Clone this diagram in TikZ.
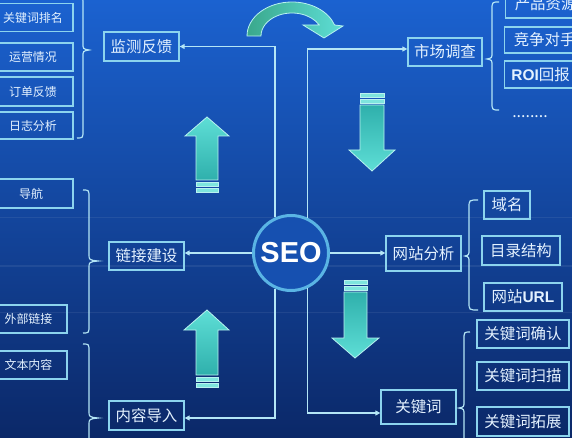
\documentclass[tikz,border=0pt]{standalone}
\usepackage{fontspec}
\setmainfont{Noto Sans CJK SC}
\newfontfamily\latinsans{Liberation Sans}
\usetikzlibrary{arrows.meta,calc}
\definecolor{bgtop}{HTML}{1B62D0}
\definecolor{bgmid}{HTML}{1450B4}
\definecolor{bgbot}{HTML}{0B2868}
\definecolor{boxc}{HTML}{8CD4EE}
\definecolor{linec}{HTML}{B4E6F6}
\definecolor{txt}{HTML}{E4F2FF}
\definecolor{circ}{HTML}{5AB4E4}
\definecolor{seofill}{HTML}{1650B0}
\definecolor{tealA}{HTML}{2FB0AC}
\definecolor{tealB}{HTML}{5EDED6}
\definecolor{tealEdge}{HTML}{B8F2F0}
\definecolor{greenA}{HTML}{3AA88C}
\tikzset{
  bx/.style={draw=boxc, line width=1.3bp, text=txt, inner sep=0pt,
    font=\fontsize{15.5}{16}\selectfont},
  sbx/.style={bx, font=\fontsize{12}{13}\selectfont},
  conn/.style={draw=linec, line width=1.3bp, -{Triangle[length=5bp,width=5bp]}},
  brc/.style={draw=linec, line width=1.2bp},
  blkup/.style={top color=tealB, bottom color=tealA, draw=tealEdge, line width=0.8bp},
  blkdn/.style={top color=tealA, bottom color=tealB, draw=tealEdge, line width=0.8bp},
  barst/.style={fill=tealB!80!white, draw=tealEdge, line width=0.6bp},
  curvarr/.style={left color=greenA, right color=tealB, draw=tealEdge, line width=0.8bp},
}
% brace: #1 end x, #2 vertical x, #3 tip x, #4 top y, #5 tip y, #6 bottom y
\newcommand\brce[6]{\draw[brc] (#1,#4) .. controls (#2,#4) .. (#2,#4+8) -- (#2,#5-7)
  .. controls (#2,#5-1) .. (#3,#5) .. controls (#2,#5+1) .. (#2,#5+7) -- (#2,#6-8)
  .. controls (#2,#6) .. (#1,#6);}
\begin{document}
\begin{tikzpicture}[x=1bp,y=-1bp]
\useasboundingbox (0,0) rectangle (572,438);
\clip (0,0) rectangle (572,438);
\shade[top color=bgtop, middle color=bgmid, bottom color=bgbot] (0,0) rectangle (572,438);
\foreach \yy in {218,266,312} \draw[white, opacity=0.07, line width=1bp] (0,\yy) -- (572,\yy);

% curved arrow at top
\path[curvarr] (247,36) arc[start angle=180,end angle=341.1,x radius=45,y radius=34]
  -- (343,26) -- (324,38) -- (303,25) -- (319.2,25)
  arc[start angle=331.4,end angle=180,x radius=31,y radius=23] -- cycle;

% block arrows
\path[blkup] (207,117) -- (229,136) -- (218,136) -- (218,180) -- (196,180) -- (196,136) -- (185,136) -- cycle;
\path[barst] (196,182) rectangle (218,186);
\path[barst] (196,188) rectangle (218,192);
\path[blkup] (207,310) -- (229,330) -- (218,330) -- (218,375) -- (196,375) -- (196,330) -- (184,330) -- cycle;
\path[barst] (196,377) rectangle (218,381);
\path[barst] (196,383) rectangle (218,387);
\path[blkdn] (372,171) -- (395,150) -- (384,150) -- (384,105) -- (360,105) -- (360,150) -- (349,150) -- cycle;
\path[barst] (360,93) rectangle (384,97);
\path[barst] (360,99) rectangle (384,103);
\path[blkdn] (355,358) -- (379,338) -- (367,338) -- (367,292) -- (344,292) -- (344,338) -- (332,338) -- cycle;
\path[barst] (344,280) rectangle (367,284);
\path[barst] (344,286) rectangle (367,290);

% centre
\node[circle, draw=circ, line width=3bp, minimum size=75bp, fill=seofill, text=white,
  font=\latinsans\bfseries\fontsize{29}{30}\selectfont] (seo) at (291,253) {SEO};

% main boxes
\node[bx,minimum width=75bp,minimum height=29bp] (jc) at (141.5,46.5) {监测反馈};
\node[bx,minimum width=74bp,minimum height=28bp] (sc) at (445,52) {市场调查};
\node[bx,minimum width=75bp,minimum height=28bp] (lj) at (146.5,256) {链接建设};
\node[bx,minimum width=75bp,minimum height=29bp] (nr) at (146.5,415.5) {内容导入};
\node[bx,minimum width=75bp,minimum height=35bp] (wz) at (423.5,253.5) {网站分析};
\node[bx,minimum width=75bp,minimum height=34bp] (gjc) at (418.5,407) {关键词};

% left column
\node[sbx,minimum width=80bp,minimum height=28.5bp] (l1) at (33,17.5) {关键词排名};
\node[sbx,minimum width=80bp,minimum height=28bp] (l2) at (33,57) {运营情况};
\node[sbx,minimum width=80bp,minimum height=29bp] (l3) at (33,91.5) {订单反馈};
\node[sbx,minimum width=80bp,minimum height=27bp] (l4) at (33,125.5) {日志分析};
\node[sbx,minimum width=84bp,minimum height=29bp] (l5) at (31,193.5) {导航};
\node[sbx,minimum width=77bp,minimum height=28bp] (l6) at (28.5,319) {外部链接};
\node[sbx,minimum width=77bp,minimum height=28bp] (l7) at (28.5,365) {文本内容};

% right column
\node[bx,anchor=west,minimum width=80bp,minimum height=28bp] (r1) at (505,4) {产品资源};
\node[bx,anchor=west,minimum width=80bp,minimum height=26bp] (r2) at (504,40) {竞争对手};
\node[bx,anchor=west,minimum width=72bp,minimum height=27bp] (r3) at (504,74.5) {{\latinsans\bfseries ROI}回报};
\node[text=txt, font=\fontsize{16}{16}\selectfont] (dots) at (530,117) {........};
\node[bx,minimum width=46bp,minimum height=28bp] (r4) at (507,205) {域名};
\node[bx,minimum width=78bp,minimum height=29bp] (r5) at (521,250.5) {目录结构};
\node[bx,minimum width=78bp,minimum height=28bp] (r6) at (523,297) {网站{\latinsans\bfseries URL}};
\node[bx,minimum width=92bp,minimum height=28bp] (r7) at (523,334) {关键词确认};
\node[bx,minimum width=92bp,minimum height=28bp] (r8) at (523,376) {关键词扫描};
\node[bx,minimum width=92bp,minimum height=29bp] (r9) at (523,421.5) {关键词拓展};

% connector end points
\coordinate (scin) at ([yshift=3bp]sc.west);
\coordinate (nrin) at ([yshift=-2.5bp]nr.east);
\coordinate (gjcin) at ([yshift=-6bp]gjc.west);

% connectors
\draw[conn] (seo.114.2) -- (seo.114.2 |- jc.east) -- (jc.east);
\draw[conn] (seo.65.8) -- (seo.65.8 |- scin) -- (scin);
\draw[conn] (seo.-114.2) -- (seo.-114.2 |- nrin) -- (nrin);
\draw[conn] (seo.-65.8) -- (seo.-65.8 |- gjcin) -- (gjcin);
\draw[conn] (seo.west) -- (seo.west -| lj.east);
\draw[conn] (seo.east) -- (seo.east -| wz.west);

% braces
\brce{77}{83}{89}{-3}{50}{138}
\brce{83}{89}{98}{190}{261}{333}
\brce{83}{89}{98}{344}{418}{470}
\brce{499}{492}{487}{2}{59}{110}
\brce{478}{469}{465}{200}{256}{310}
\brce{470}{464}{459}{332}{408}{470}
\end{tikzpicture}
\end{document}
